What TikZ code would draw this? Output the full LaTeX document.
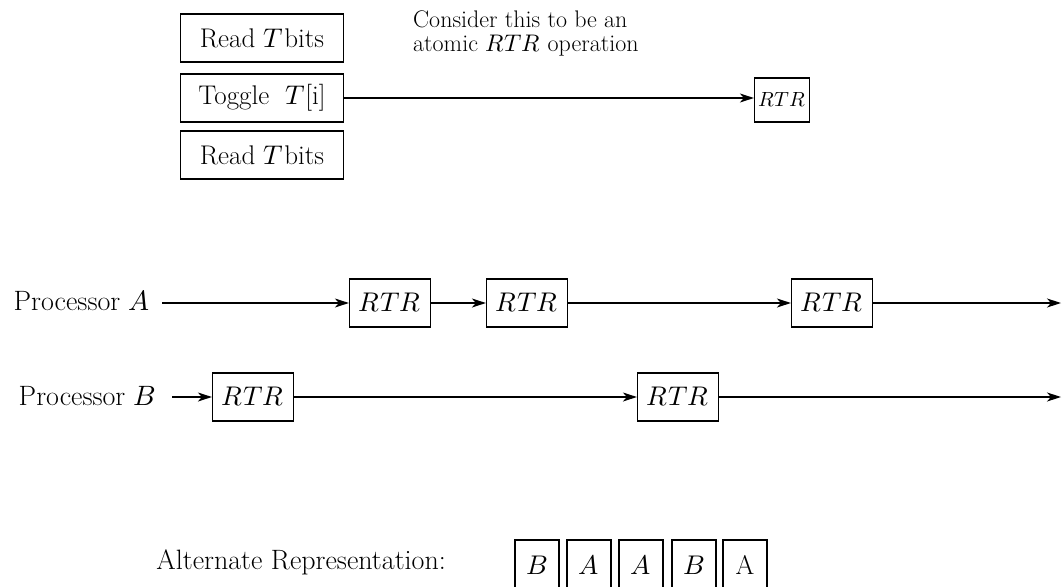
\documentclass[tikz,border=0pt]{standalone}
\usepackage{unicode-math}
\usetikzlibrary{arrows.meta}
\begin{document}
\begin{tikzpicture}[x=1pt,y=-1pt,
  every node/.style={font=\fontsize{27}{31}\selectfont},
  opbox/.style={draw, line width=1.2pt, rectangle, inner sep=0pt, anchor=center},
  topbox/.style={opbox, minimum width=163pt, minimum height=48pt},
  rtrbox/.style={opbox, minimum width=81pt, minimum height=48pt},
  letterbox/.style={opbox, minimum width=44pt, minimum height=50pt},
  label/.style={anchor=east, inner sep=0pt, font=\fontsize{28}{32}\selectfont},
  flow/.style={line width=1.2pt, -{Stealth[length=14pt,width=9pt,inset=4pt]}}]
\useasboundingbox (0,0) rectangle (1062,586);
\clip (0,0) rectangle (1062,586);

% top part
\node[topbox] (r1) at (262,38) {Read $T$\kern1pt bits};
\node[topbox] (tg) at (262,98) {Toggle\ \ $T$[i]};
\node[topbox] (r2) at (262,155) {Read $T$\kern1pt bits};
\node[opbox, minimum width=55pt, minimum height=44pt, font=\fontsize{20.5}{24}\selectfont] (rtop) at (782,100) {$RTR$};
\node[anchor=north west, align=left, inner sep=0pt, font=\fontsize{24}{23.5}\selectfont] (note) at (413,11)
  {Consider this to be an\\atomic $RTR$ operation};
\draw[flow] (tg.east) -- (tg.east -| rtop.west);

% processor A
\node[label] (pa) at (150,301) {Processor $A$};
\coordinate (pas) at (162,303);
\node[rtrbox] (a1) at (390,303) {$RTR$};
\node[rtrbox] (a2) at (527,303) {$RTR$};
\node[rtrbox] (a3) at (832,303) {$RTR$};
\coordinate (aend) at (1061,303);
\draw[flow] (pas) -- (a1.west);
\draw[flow] (a1.east) -- (a2.west);
\draw[flow] (a2.east) -- (a3.west);
\draw[flow] (a3.east) -- (aend);

% processor B
\node[label] (pb) at (156,396) {Processor $B$};
\coordinate (pbs) at (172,397);
\node[rtrbox] (b1) at (253,397) {$RTR$};
\node[rtrbox] (b2) at (678,397) {$RTR$};
\coordinate (bend) at (1061,397);
\draw[flow] (pbs) -- (b1.west);
\draw[flow] (b1.east) -- (b2.west);
\draw[flow] (b2.east) -- (bend);

% alternate representation
\node[label] (alt) at (446,562) {Alternate Representation:};
\node[letterbox] (l1) at (537,565) {$B$};
\node[letterbox] (l2) at (589,565) {$A$};
\node[letterbox] (l3) at (641,565) {$A$};
\node[letterbox] (l4) at (694,565) {$B$};
\node[letterbox] (l5) at (745,565) {A};
\end{tikzpicture}
\end{document}
